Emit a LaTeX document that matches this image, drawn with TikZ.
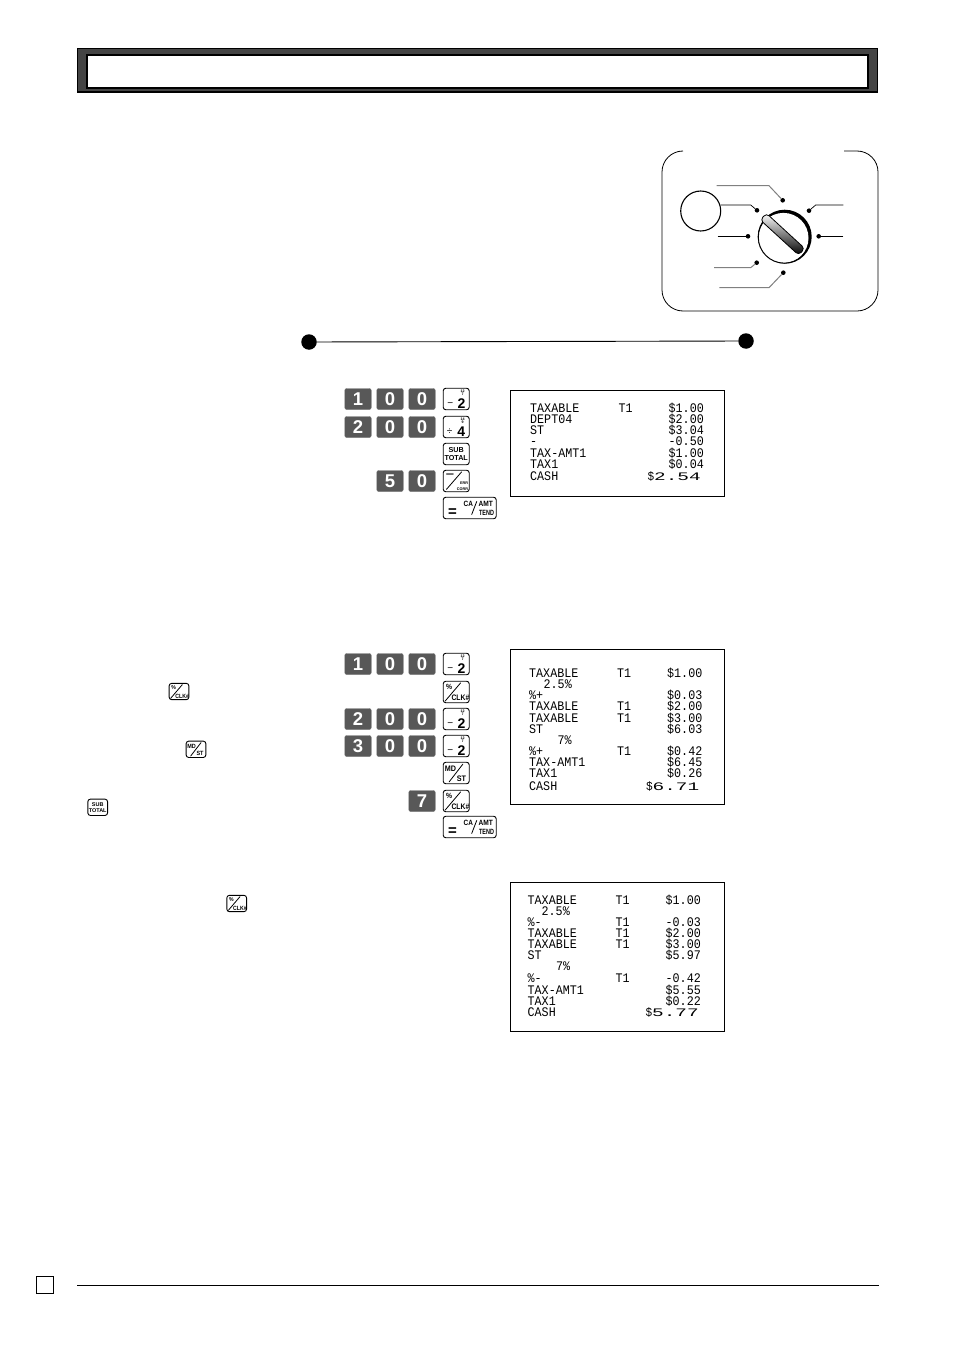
\documentclass[tikz,border=0pt]{standalone}
\usepackage{fontspec}
\usepackage{graphicx}
\usetikzlibrary{calc}
\setmainfont{Liberation Sans}
\setmonofont{Liberation Mono}
\newcommand{\fs}[1]{\fontsize{#1}{#1}\selectfont}
\newcommand{\nw}[2]{\scalebox{#1}[1]{#2}}
\newcounter{nc}
\tikzset{
  digitkey/.style={fill=keygrey,draw=keyedge,line width=.4pt,rounded corners=2pt,minimum width=26.5pt,minimum height=21pt,inner sep=0pt,text=white,font=\fs{18.5}\bfseries},
  keybox/.style={draw=black,fill=white,line width=.9pt,rounded corners=2.6pt,minimum height=21.5pt,inner sep=0pt},
  keytxt/.style={inner sep=0pt,text=black},
  rcpt/.style={inner sep=0pt,font=\ttfamily\fs{11.7},text=black},
  rbox/.style={draw=black,line width=1pt,fill=white},
  lead/.style={line width=.7pt,draw=black},
  leadg/.style={line width=1pt,draw=black!50},
  ldot/.style={circle,fill=black,inner sep=0pt,minimum size=4.6pt},
  bigdot/.style={circle,fill=black,inner sep=0pt,minimum size=15.5pt}
}
\definecolor{keygrey}{HTML}{585858}
\definecolor{keyedge}{HTML}{707070}
\definecolor{hdrgrey}{HTML}{444444}
\newcommand{\dk}[4]{\node[digitkey] (#1) at (#2,#3) {#4};}
% key with content
\newcommand{\kl}[4]{\stepcounter{nc}\node[keytxt,font=#3] (n\arabic{nc}) at (#1,#2) {#4};}
\newcommand{\opkey}[6]{% name,x,y,scale,width,content
  \begin{scope}[shift={(#2,#3)},scale=#4,every node/.append style={transform shape}]
    \node[keybox,minimum width=#5pt] (#1) at (0,0) {};
    #6
  \end{scope}}
\newcommand{\diag}[4]{\draw[line width=.8pt,line cap=round] (#1,#2) -- (#3,#4);}
\newcommand{\ktwo}{\kl{6.3}{-8}{\fs{3.6}\bfseries}{12}\kl{6.3}{-4.6}{\fs{3.6}\bfseries}{7}\kl{5.3}{4.6}{\fs{14}\bfseries}{2}\kl{-6}{5.2}{\fs{10}}{−}}
\newcommand{\kfour}{\kl{6.3}{-8}{\fs{3.6}\bfseries}{14}\kl{6.3}{-4.6}{\fs{3.6}\bfseries}{9}\kl{5}{4.6}{\fs{14}\bfseries}{4}\kl{-6.5}{5.2}{\fs{10}}{÷}}
\newcommand{\ksub}{\kl{0}{-4.2}{\fs{7.2}\bfseries}{SUB}\kl{0}{4.4}{\fs{7.2}\bfseries}{TOTAL}}
\newcommand{\kerr}{\diag{-9.7}{8.3}{5.3}{-9}\kl{-6.3}{-4.6}{\fs{15}}{−}\kl{8}{2.3}{\fs{3.8}\bfseries}{ERR}\kl{6.3}{7.8}{\fs{3.8}\bfseries}{CORR}}
\newcommand{\kclk}{\diag{-11}{9}{4.3}{-9}\kl{-7}{-5}{\fs{7.5}\bfseries}{\nw{.9}{\%}}\kl{4.2}{5.8}{\fs{8}\bfseries}{\nw{.85}{CLK\#}}}
\newcommand{\kmd}{\diag{-7}{8.8}{6.6}{-8.8}\kl{-5.7}{-4.4}{\fs{8}\bfseries}{\nw{.9}{MD}}\kl{5.3}{6}{\fs{8}\bfseries}{\nw{.9}{ST}}}
\newcommand{\kca}{\diag{2}{6.5}{7}{-6.5}\kl{-17.3}{5}{\fs{15}\bfseries}{=}\kl{-1.3}{-3.7}{\fs{7.6}\bfseries}{\nw{.85}{CA}}\kl{16}{-3.7}{\fs{7.6}\bfseries}{\nw{.87}{AMT}}\kl{16.8}{4.7}{\fs{7.6}\bfseries}{\nw{.72}{TEND}}}
% receipt lines
\newcommand{\rl}[3]{\stepcounter{nc}\node[rcpt,anchor=base west] (n\arabic{nc}) at (#1,#2) {\scalebox{1}[1.12]{#3}};}
\newcommand{\rr}[3]{\stepcounter{nc}\node[rcpt,anchor=base east] (n\arabic{nc}) at (#1,#2) {\scalebox{1}[1.12]{#3}};}
\newcommand{\rbig}[4]{\stepcounter{nc}\node[rcpt,anchor=base east] (n\arabic{nc}) at (#1,#2) {\scalebox{.95}[1.05]{#3}\scalebox{1.66}[.98]{#4}};}
\begin{document}
\begin{tikzpicture}[x=1pt,y=-1pt]
\useasboundingbox (0,0) rectangle (954,1351);
\fill[white] (0,0) rectangle (954,1351);
% header
\node[draw=black,line width=1.6pt,fill=hdrgrey,minimum width=800pt,minimum height=43.6pt,inner sep=0pt] (hdrout) at (477.6,70.5) {};
\node[draw=black,line width=2pt,fill=white,minimum width=781pt,minimum height=32.5pt,inner sep=0pt] (hdrin) at (477.3,71.4) {};
% mode dial frame
\draw[line width=.8pt] (683,151) arc[start angle=270,end angle=180,radius=21] -- (662,290) arc[start angle=180,end angle=90,radius=21] -- (857,311) arc[start angle=90,end angle=0,radius=21] -- (878,172) arc[start angle=360,end angle=270,radius=21] -- (844,151);
\node[draw=black,circle,line width=1.1pt,minimum size=40pt,inner sep=0pt] (lock) at (700.7,211) {};
\coordinate (ctr) at (784.7,236.7);
\fill[black] (ctr) circle[radius=27];
\fill[white] ($(ctr)+(-1.3,1.3)$) circle[radius=25.1];
\draw[line width=.9pt] ($(ctr)+(-.4,.4)$) circle[radius=26];
\node[rotate=-42.5,draw=black,line width=.8pt,rounded corners=3.6pt,minimum width=52pt,minimum height=9pt,inner sep=0pt,top color=white,middle color=black!22,bottom color=black] (handle) at (782.5,234.2) {};
\node[ldot] (d1) at (782.7,200.3) {};
\node[ldot] (d2) at (757,210.3) {};
\node[ldot] (d3) at (748,236.3) {};
\node[ldot] (d4) at (756.7,262.7) {};
\node[ldot] (d5) at (783.3,272.7) {};
\node[ldot] (d6) at (809,210.7) {};
\node[ldot] (d7) at (818.7,236.3) {};
\coordinate (e1) at (716.7,185.7);
\coordinate (e2) at (720.7,205);
\coordinate (e3) at (717.7,236.3);
\coordinate (e4) at (714,267.7);
\coordinate (e5) at (719.3,287.7);
\coordinate (e6) at (843.3,205);
\coordinate (e7) at (843.3,236.3);
\draw[leadg] (e1) -- (769,185.7) -- (d1);
\draw[lead] (e2) -- (750.7,205) -- (d2);
\draw[lead] (e3) -- (d3);
\draw[leadg] (e4) -- (750.7,267.7) -- (d4);
\draw[leadg] (e5) -- (769,287.7) -- (d5);
\draw[lead] (e6) -- (815.7,205) -- (d6);
\draw[lead] (e7) -- (d7);
% timeline
\node[bigdot] (tl) at (309,342) {};
\node[bigdot] (tr) at (746,341) {};
\draw[line width=.9pt] (tl) -- (tr);
% section 1 keys
\dk{a1}{358}{399}{1}\dk{a2}{390}{399}{0}\dk{a3}{422}{399}{0}
\opkey{a4}{456.2}{399}{1}{26}{\ktwo}
\dk{b1}{358}{427}{2}\dk{b2}{390}{427}{0}\dk{b3}{422}{427}{0}
\opkey{b4}{456.2}{427}{1}{26}{\kfour}
\opkey{c4}{456.2}{454}{1}{26}{\ksub}
\dk{f2}{390}{481}{5}\dk{f3}{422}{481}{0}
\opkey{f4}{456.2}{481}{1}{26}{\kerr}
\opkey{g4}{469.7}{508}{1}{53}{\kca}
% section 2 keys
\dk{h1}{358}{664}{1}\dk{h2}{390}{664}{0}\dk{h3}{422}{664}{0}
\opkey{h4}{456.2}{664}{1}{26}{\ktwo}
\opkey{i4}{456.2}{692}{1}{26}{\kclk}
\dk{j1}{358}{719}{2}\dk{j2}{390}{719}{0}\dk{j3}{422}{719}{0}
\opkey{j4}{456.2}{719}{1}{26}{\ktwo}
\dk{k1}{358}{746}{3}\dk{k2}{390}{746}{0}\dk{k3}{422}{746}{0}
\opkey{k4}{456.2}{746}{1}{26}{\ktwo}
\opkey{l4}{456.2}{773}{1}{26}{\kmd}
\dk{m3}{422}{801}{7}
\opkey{m4}{456.2}{801}{1}{26}{\kclk}
\opkey{o4}{469.7}{827}{1}{53}{\kca}
% inline keys
\opkey{p1}{179}{691.5}{.76}{26}{\kclk}
\opkey{p2}{196}{749.3}{.76}{26}{\kmd}
\opkey{p3}{97.7}{807.3}{.76}{26}{\ksub}
\opkey{p4}{236.7}{903.5}{.76}{26}{\kclk}
% receipt 1
\node[rbox,minimum width=213.5pt,minimum height=105.5pt,inner sep=0pt] (box1) at (617.5,443.5) {};
\rl{530}{412}{TAXABLE}\rl{618.5}{412}{T1}\rr{704}{412}{\$1.00}
\rl{530}{423.3}{DEPT04}\rr{704}{423.3}{\$2.00}
\rl{530}{434.5}{ST}\rr{704}{434.5}{\$3.04}
\rl{530}{445.7}{-}\rr{704}{445.7}{-0.50}
\rl{530}{457}{TAX-AMT1}\rr{704}{457}{\$1.00}
\rl{530}{468}{TAX1}\rr{704}{468}{\$0.04}
\rl{530}{480}{CASH}\rbig{701}{480}{\$}{2.54}
% receipt 2
\node[rbox,minimum width=213.5pt,minimum height=155pt,inner sep=0pt] (box2) at (617.5,727) {};
\rl{529}{677}{TAXABLE}\rl{617}{677}{T1}\rr{702.5}{677}{\$1.00}
\rl{543.5}{688}{2.5\%}
\rl{529}{699.3}{\%+}\rr{702.5}{699.3}{\$0.03}
\rl{529}{710.7}{TAXABLE}\rl{617}{710.7}{T1}\rr{702.5}{710.7}{\$2.00}
\rl{529}{722}{TAXABLE}\rl{617}{722}{T1}\rr{702.5}{722}{\$3.00}
\rl{529}{733}{ST}\rr{702.5}{733}{\$6.03}
\rl{557.5}{744.3}{7\%}
\rl{529}{755.7}{\%+}\rl{617}{755.7}{T1}\rr{702.5}{755.7}{\$0.42}
\rl{529}{766.7}{TAX-AMT1}\rr{702.5}{766.7}{\$6.45}
\rl{529}{777.7}{TAX1}\rr{702.5}{777.7}{\$0.26}
\rl{529}{790}{CASH}\rbig{699.5}{790}{\$}{6.71}
% receipt 3
\node[rbox,minimum width=213.5pt,minimum height=149pt,inner sep=0pt] (box3) at (617.5,957) {};
\rl{527.5}{904}{TAXABLE}\rl{615.5}{904}{T1}\rr{701}{904}{\$1.00}
\rl{541.5}{915}{2.5\%}
\rl{527.5}{926}{\%-}\rl{615.5}{926}{T1}\rr{701}{926}{-0.03}
\rl{527.5}{937.3}{TAXABLE}\rl{615.5}{937.3}{T1}\rr{701}{937.3}{\$2.00}
\rl{527.5}{948.7}{TAXABLE}\rl{615.5}{948.7}{T1}\rr{701}{948.7}{\$3.00}
\rl{527.5}{959.7}{ST}\rr{701}{959.7}{\$5.97}
\rl{556}{970.7}{7\%}
\rl{527.5}{982}{\%-}\rl{615.5}{982}{T1}\rr{701}{982}{-0.42}
\rl{527.5}{994}{TAX-AMT1}\rr{701}{994}{\$5.55}
\rl{527.5}{1005}{TAX1}\rr{701}{1005}{\$0.22}
\rl{527.5}{1016.3}{CASH}\rbig{699}{1016.3}{\$}{5.77}
% footer
\node[draw=black,line width=1.2pt,minimum width=17pt,minimum height=17pt,inner sep=0pt] (pg) at (45,1285) {};
\coordinate (fl) at (77,1285);
\coordinate (fr) at (879,1285);
\draw[line width=.8pt] (fl) -- (fr);
\end{tikzpicture}
\end{document}
